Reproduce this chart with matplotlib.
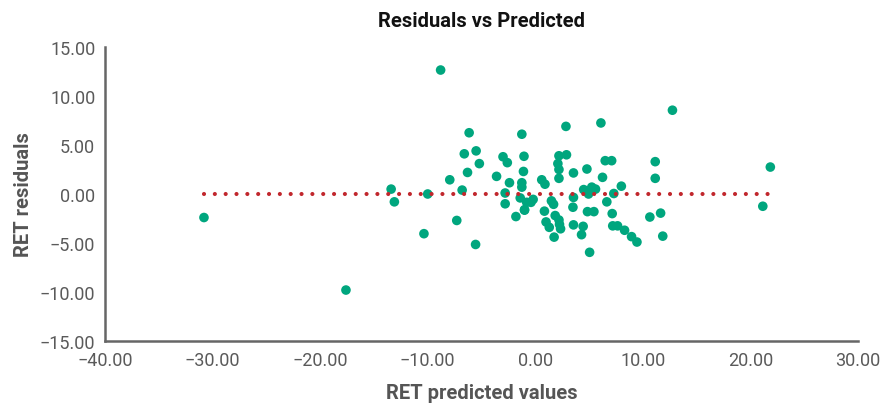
import matplotlib
matplotlib.use("Agg")
import matplotlib.pyplot as plt
from matplotlib.ticker import FuncFormatter

plt.rcParams['font.family'] = ['Roboto', 'DejaVu Sans']

predicted = [
    -30.8, -17.6, -13.4, -13.1, -10.0, -10.35, -8.8, -7.95, -7.3, -6.8,
    -6.6, -6.3, -6.15, -5.5, -5.2, -5.55, -3.6, -3.0, -2.6, -2.4,
    -2.8, -2.8, -1.8, -1.25, -1.05, -1.1, -1.25, -1.25, -1.4, -0.8,
    -0.2, -1.0, 0.6, 0.9, 2.2, 2.9, 2.1, 2.2, 2.2, 2.85,
    6.1, 3.55, 4.8, 6.5, 7.1, 6.25, 8.0, 11.15, 11.15, 12.75,
    21.85, 4.5, 5.25, 5.6, 4.95, 3.55, 7.3, 6.65, 1.5, 1.7,
    3.5, 0.85, 4.85, 5.45, 7.15, 1.85, 2.2, 1.0, 2.25, 1.3,
    2.35, 3.55, 4.45, 4.3, 1.75, 5.05, 7.2, 7.65, 8.3, 8.95,
    9.45, 10.65, 11.65, 11.85, 21.15, -1.0, -0.4,
]
residuals = [
    -2.4, -9.8, 0.5, -0.8, 0.0, -4.05, 12.65, 1.45, -2.7, 0.4,
    4.1, 2.2, 6.25, 4.4, 3.1, -5.15, 1.8, 3.8, 3.2, 1.15,
    0.1, -1.0, -2.3, 6.1, 3.85, 2.3, 1.15, 0.7, -0.4, -0.85,
    -0.55, -1.65, 1.45, 1.0, 3.9, 4.0, 3.1, 2.5, 1.6, 6.9,
    7.25, 2.15, 2.55, 3.4, 3.4, 1.7, 0.8, 3.3, 1.6, 8.55,
    2.75, 0.45, 0.7, 0.5, 0.0, -0.35, 0.05, -0.8, -0.7, -1.05,
    -1.35, -1.75, -1.8, -1.8, -2.0, -2.2, -2.65, -2.85, -3.1, -3.4,
    -3.55, -3.15, -3.3, -4.15, -4.4, -5.95, -3.25, -3.25, -3.7, -4.35,
    -4.9, -2.35, -1.95, -4.3, -1.25, -1.6, -0.85,
]

zero_line_x = [min(predicted), max(predicted)]
zero_line_y = [0.0, 0.0]

x_ticks = [-40, -30, -20, -10, 0, 10, 20, 30]
y_ticks = [-15, -10, -5, 0, 5, 10, 15]

fig = plt.figure(figsize=(8.88, 4.06), dpi=100)
ax = fig.add_axes([105/888, 1 - 342/406, (858 - 105)/888, (342 - 48)/406])

ax.scatter(predicted, residuals, s=48, color='#00A67E', edgecolors='none', zorder=2)
ax.plot(zero_line_x, zero_line_y, color='#C1272D', linewidth=3.0,
        linestyle=(0, (0.001, 2.6)), dash_capstyle='round', zorder=3)

ax.set_xlim(x_ticks[0], x_ticks[-1])
ax.set_ylim(y_ticks[0], y_ticks[-1])
ax.set_xticks(x_ticks)
ax.set_yticks(y_ticks)

fmt = FuncFormatter(lambda v, p: ('%.2f' % v).replace('-', '\u2212'))
ax.xaxis.set_major_formatter(fmt)
ax.yaxis.set_major_formatter(fmt)

for side in ['top', 'right']:
    ax.spines[side].set_visible(False)
for side in ['left', 'bottom']:
    ax.spines[side].set_color('#666666')
    ax.spines[side].set_linewidth(1.8)

ax.tick_params(axis='both', length=0, pad=7, labelsize=13, labelcolor='#5a5a5a')

ax.set_title('Residuals vs Predicted', fontsize=14.5, fontweight='bold', color='#111111', pad=15)
ax.set_xlabel('RET predicted values', fontsize=14.5, fontweight='bold', color='#555555', labelpad=10)
ax.set_ylabel('RET residuals', fontsize=14.5, fontweight='bold', color='#555555', labelpad=5)

fig.savefig('out.png', dpi=100)
